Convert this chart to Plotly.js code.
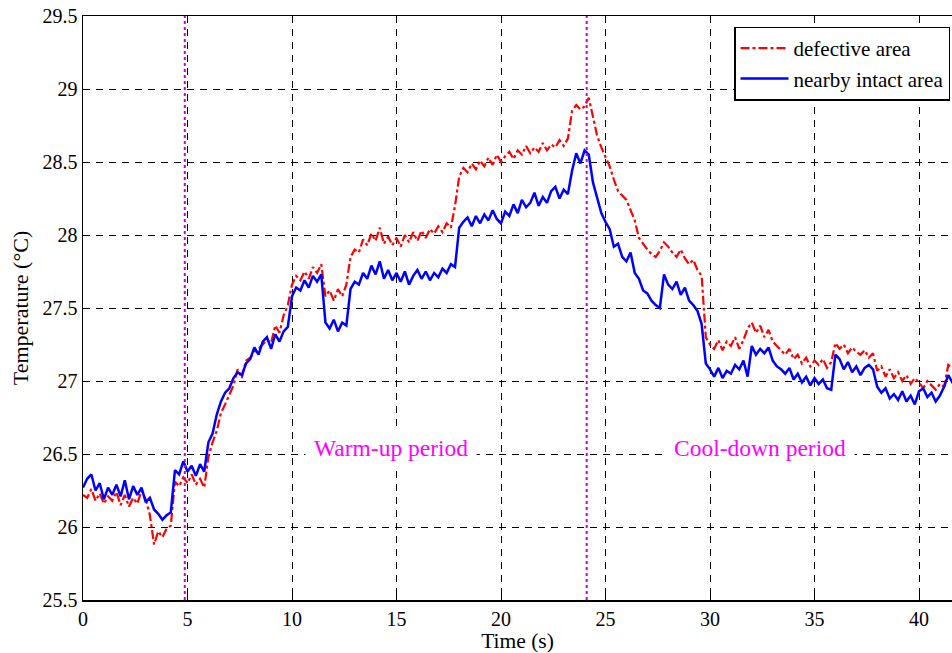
<!DOCTYPE html>
<html>
<head>
<meta charset="utf-8">
<script src="https://cdn.plot.ly/plotly-3.0.1.min.js"></script>
<style>html,body{margin:0;padding:0;background:#fff;}#chart{width:952px;height:653px;}</style>
</head>
<body>
<div id="chart"></div>
<script>
// sampling interval of the recorded series (s)
var dt = 0.2;

// defective area temperature (°C), one value every 0.2 s from t = 0
var defectiveArea = [
  26.22, 26.20, 26.26, 26.18, 26.23, 26.16, 26.21, 26.18, 26.24, 26.15,
  26.22, 26.14, 26.20, 26.16, 26.25, 26.19, 26.08, 25.88, 25.97, 25.93,
  25.99, 26.01, 26.31, 26.28, 26.34, 26.30, 26.36, 26.29, 26.33, 26.27,
  26.48, 26.58, 26.66, 26.78, 26.84, 26.90, 26.97, 27.08, 27.02, 27.14,
  27.16, 27.20, 27.22, 27.25, 27.28, 27.26, 27.38, 27.33, 27.45, 27.52,
  27.66, 27.72, 27.69, 27.75, 27.70, 27.78, 27.74, 27.80, 27.58, 27.62,
  27.55, 27.63, 27.58, 27.66, 27.85, 27.90, 27.88, 27.97, 27.93, 28.01,
  27.96, 28.05, 27.94, 27.99, 27.93, 27.98, 27.92, 28.00, 27.95, 28.02,
  27.96, 28.03, 27.98, 28.04, 28.01, 28.06, 28.02, 28.08, 28.05, 28.20,
  28.40, 28.46, 28.43, 28.49, 28.45, 28.51, 28.47, 28.53, 28.48, 28.55,
  28.50, 28.54, 28.57, 28.52, 28.58, 28.55, 28.61, 28.56, 28.60, 28.57,
  28.63, 28.58, 28.62, 28.60, 28.65, 28.61, 28.66, 28.85, 28.89, 28.86,
  28.88, 28.94, 28.80, 28.68, 28.60, 28.54, 28.47, 28.38, 28.30, 28.27,
  28.24, 28.17, 28.10, 27.98, 27.94, 27.90, 27.87, 27.85, 27.89, 27.95,
  27.92, 27.88, 27.85, 27.90, 27.84, 27.80, 27.83, 27.76, 27.72, 27.30,
  27.25, 27.22, 27.28, 27.21, 27.27, 27.24, 27.30, 27.22, 27.28, 27.36,
  27.40, 27.33, 27.38, 27.30, 27.35, 27.27, 27.24, 27.21, 27.18, 27.22,
  27.15, 27.18, 27.12, 27.16, 27.10, 27.14, 27.11, 27.15, 27.09, 27.13,
  27.26, 27.22, 27.25, 27.19, 27.23, 27.20, 27.18, 27.21, 27.16, 27.19,
  27.07, 27.10, 27.03, 27.08, 27.02, 27.06, 27.00, 27.04, 26.98, 27.02,
  26.99, 26.95, 27.00, 26.97, 26.94, 26.98, 26.96, 27.11, 27.09, 27.13
];

// nearby intact area temperature (°C), same sampling
var intactArea = [
  26.27, 26.33, 26.36, 26.25, 26.30, 26.19, 26.27, 26.22, 26.29, 26.21,
  26.32, 26.19, 26.28, 26.22, 26.27, 26.17, 26.20, 26.12, 26.09, 26.05,
  26.08, 26.10, 26.39, 26.36, 26.45, 26.38, 26.42, 26.35, 26.43, 26.38,
  26.58, 26.64, 26.77, 26.86, 26.92, 26.95, 27.02, 27.06, 27.04, 27.12,
  27.15, 27.23, 27.18, 27.27, 27.30, 27.22, 27.32, 27.27, 27.34, 27.37,
  27.58, 27.64, 27.62, 27.69, 27.64, 27.72, 27.68, 27.73, 27.40, 27.36,
  27.42, 27.34, 27.40, 27.38, 27.63, 27.68, 27.66, 27.74, 27.70, 27.79,
  27.73, 27.82, 27.70, 27.76, 27.69, 27.74, 27.68, 27.75, 27.66, 27.72,
  27.76, 27.70, 27.75, 27.69, 27.74, 27.71, 27.77, 27.74, 27.80, 27.78,
  28.05, 28.09, 28.12, 28.06, 28.13, 28.08, 28.14, 28.10, 28.17, 28.11,
  28.08, 28.16, 28.13, 28.21, 28.15, 28.24, 28.19, 28.22, 28.29, 28.20,
  28.26, 28.22, 28.30, 28.33, 28.25, 28.31, 28.28, 28.44, 28.56, 28.49,
  28.58, 28.55, 28.36, 28.25, 28.15, 28.09, 28.04, 27.92, 27.94, 27.85,
  27.82, 27.88, 27.74, 27.70, 27.62, 27.60, 27.55, 27.52, 27.50, 27.73,
  27.66, 27.63, 27.68, 27.59, 27.64, 27.55, 27.52, 27.48, 27.39, 27.12,
  27.08, 27.03, 27.09, 27.02, 27.07, 27.05, 27.11, 27.08, 27.14, 27.03,
  27.24, 27.18, 27.22, 27.19, 27.23, 27.14, 27.10, 27.08, 27.05, 27.09,
  27.01, 27.05, 26.99, 27.03, 26.97, 27.02, 26.98, 27.01, 26.95, 26.94,
  27.18, 27.15, 27.08, 27.13, 27.06, 27.10, 27.04, 27.09, 27.11, 27.08,
  26.96, 26.92, 26.95, 26.88, 26.91, 26.87, 26.93, 26.86, 26.90, 26.84,
  26.93, 26.95, 26.89, 26.92, 26.86, 26.90, 26.96, 27.04, 26.99, 27.02
];

// boundaries of the heating period (s)
var periodBounds = [4.87, 24.1];
// period labels and their positions
var periodLabels = ["Warm-up period", "Cool-down period"];
var periodLabelX = [14.72, 32.4];
var periodLabelY = [26.54, 26.54];

var seriesNames = ["defective area", "nearby intact area"];
var xTicks = [0, 5, 10, 15, 20, 25, 30, 35, 40];
var yTicks = [25.5, 26, 26.5, 27, 27.5, 28, 28.5, 29, 29.5];

var time = defectiveArea.map(function (_, i) { return +(i * dt).toFixed(2); });

var FONT = "Liberation Serif";

var traces = [
  {
    x: time, y: defectiveArea, name: seriesNames[0], type: "scatter", mode: "lines",
    line: { color: "#ff0000", width: 2.2, dash: "dashdot" }
  },
  {
    x: time, y: intactArea, name: seriesNames[1], type: "scatter", mode: "lines",
    line: { color: "#0000ff", width: 2.5 }
  }
];

var shapes = periodBounds.map(function (b) {
  return {
    type: "line", xref: "x", yref: "paper", x0: b, x1: b, y0: 0, y1: 1,
    line: { color: "#cc00cc", width: 2, dash: "dot" }, layer: "above"
  };
});

var annotations = periodLabels.map(function (t, i) {
  return {
    x: periodLabelX[i], y: periodLabelY[i], xref: "x", yref: "y",
    text: t, showarrow: false, bgcolor: "#ffffff", borderpad: 8,
    font: { family: FONT, size: 23.5, color: "#ff00ff" }
  };
});

var gridStyle = { showgrid: true, gridcolor: "#000000", gridwidth: 1, griddash: "7px,6px" };

var layout = {
  width: 952, height: 653,
  margin: { l: 83, r: 0, t: 16, b: 53 },
  paper_bgcolor: "#ffffff", plot_bgcolor: "#ffffff",
  font: { family: FONT, size: 20, color: "#000000" },
  showlegend: true,
  legend: {
    x: (734 - 83) / 869, y: 0.982, xanchor: "left", yanchor: "top",
    bgcolor: "#ffffff", bordercolor: "#000000", borderwidth: 1.5,
    font: { family: FONT, size: 21, color: "#000000" },
    tracegroupgap: 0, itemwidth: 48
  },
  xaxis: Object.assign({
    range: [0, 869 / 20.9], tickvals: xTicks, ticktext: xTicks.map(String),
    showline: true, linecolor: "#000000", linewidth: 1.5, mirror: "ticks",
    ticks: "inside", ticklen: 6, tickcolor: "#000000",
    zeroline: false, tickfont: { family: FONT, size: 20 },
    title: { text: "Time (s)", font: { family: FONT, size: 21.5 }, standoff: 3 }
  }, gridStyle),
  yaxis: Object.assign({
    range: [25.5, 29.5], tickvals: yTicks, ticktext: yTicks.map(String),
    showline: true, linecolor: "#000000", linewidth: 1.5, mirror: false,
    ticks: "inside", ticklen: 6, tickcolor: "#000000",
    zeroline: false, tickfont: { family: FONT, size: 20 },
    title: { text: "Temperature (°C)", font: { family: FONT, size: 22 }, standoff: 8 }
  }, gridStyle),
  shapes: shapes,
  annotations: annotations
};

Plotly.newPlot("chart", traces, layout, { displayModeBar: false, staticPlot: true });
</script>
</body>
</html>
